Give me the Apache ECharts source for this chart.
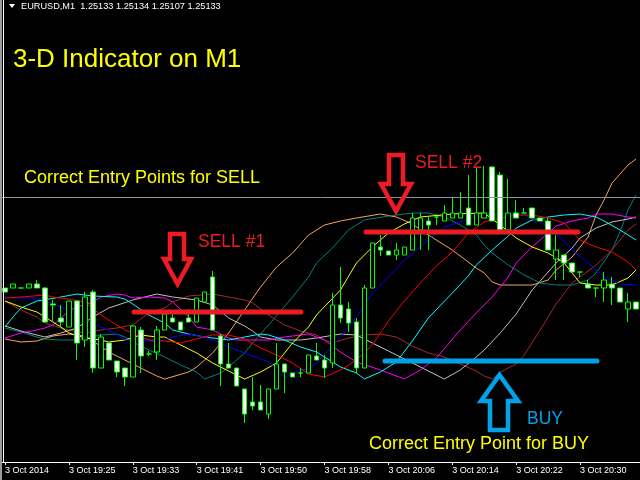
<!DOCTYPE html>
<html><head><meta charset="utf-8">
<script src="https://cdn.jsdelivr.net/npm/echarts@6/dist/echarts.min.js"></script>
<style>html,body{margin:0;padding:0;background:#000;}#c{width:640px;height:480px;}</style>
</head><body><div id="c"></div>
<script>
// Bar times (M1 bars, 3 Oct 2014)
const barTimes = [
"19:17","19:18","19:19","19:20","19:21","19:22","19:23","19:24","19:25","19:26",
"19:27","19:28","19:29","19:30","19:31","19:32","19:33","19:34","19:35","19:36",
"19:37","19:38","19:39","19:40","19:41","19:42","19:43","19:44","19:46","19:47",
"19:48","19:49","19:50","19:51","19:52","19:53","19:54","19:55","19:56","19:57",
"19:58","19:59","20:00","20:01","20:02","20:03","20:04","20:05","20:06","20:07",
"20:08","20:09","20:10","20:11","20:12","20:13","20:14","20:15","20:16","20:17",
"20:18","20:19","20:20","20:21","20:22","20:23","20:24","20:25","20:26","20:27",
"20:28","20:29","20:30","20:31","20:32","20:33","20:34","20:35","20:36","20:37"];

// [open, close, low, high]
const candleOHLC = [
[1.25154,1.25150,1.25150,1.25154],[1.25154,1.25158,1.25154,1.25158],[1.25154,1.25154,1.25154,1.25154],
[1.25154,1.25158,1.25154,1.25158],[1.25158,1.25154,1.25154,1.25162],[1.25154,1.25120,1.25119,1.25155],
[1.25138,1.25137,1.25120,1.25142],[1.25124,1.25120,1.25115,1.25137],[1.25115,1.25141,1.25115,1.25141],
[1.25141,1.25099,1.25082,1.25142],[1.25102,1.25145,1.25095,1.25150],[1.25150,1.25074,1.25069,1.25152],
[1.25074,1.25105,1.25074,1.25108],[1.25099,1.25082,1.25082,1.25099],[1.25081,1.25070,1.25065,1.25081],
[1.25074,1.25065,1.25056,1.25074],[1.25065,1.25116,1.25065,1.25117],[1.25112,1.25086,1.25069,1.25115],
[1.25088,1.25088,1.25086,1.25091],[1.25090,1.25112,1.25082,1.25116],[1.25112,1.25128,1.25112,1.25132],
[1.25124,1.25120,1.25120,1.25128],[1.25120,1.25112,1.25112,1.25120],[1.25124,1.25120,1.25120,1.25133],
[1.25120,1.25144,1.25120,1.25144],[1.25140,1.25150,1.25140,1.25150],[1.25165,1.25112,1.25112,1.25171],
[1.25106,1.25078,1.25056,1.25108],[1.25078,1.25074,1.25074,1.25099],[1.25074,1.25056,1.25056,1.25074],
[1.25053,1.25028,1.25019,1.25053],[1.25040,1.25036,1.25032,1.25065],[1.25040,1.25032,1.25032,1.25057],
[1.25028,1.25053,1.25023,1.25053],[1.25053,1.25078,1.25053,1.25099],[1.25078,1.25070,1.25049,1.25078],
[1.25069,1.25065,1.25065,1.25069],[1.25069,1.25069,1.25065,1.25074],[1.25069,1.25087,1.25069,1.25087],
[1.25086,1.25082,1.25082,1.25099],[1.25082,1.25074,1.25064,1.25087],[1.25079,1.25137,1.25074,1.25149],
[1.25137,1.25124,1.25119,1.25175],[1.25133,1.25119,1.25110,1.25140],[1.25120,1.25074,1.25069,1.25124],
[1.25074,1.25154,1.25074,1.25157],[1.25154,1.25199,1.25154,1.25199],[1.25195,1.25192,1.25186,1.25207],
[1.25191,1.25187,1.25187,1.25191],[1.25187,1.25192,1.25182,1.25199],[1.25187,1.25195,1.25187,1.25195],
[1.25192,1.25224,1.25192,1.25229],[1.25212,1.25224,1.25192,1.25229],[1.25221,1.25217,1.25192,1.25226],
[1.25225,1.25225,1.25217,1.25225],[1.25221,1.25229,1.25221,1.25237],[1.25224,1.25229,1.25224,1.25245],
[1.25224,1.25229,1.25224,1.25250],[1.25234,1.25217,1.25217,1.25267],[1.25217,1.25229,1.25217,1.25275],
[1.25224,1.25229,1.25224,1.25276],[1.25275,1.25221,1.25221,1.25276],[1.25267,1.25212,1.25212,1.25270],
[1.25212,1.25229,1.25212,1.25263],[1.25229,1.25224,1.25224,1.25242],[1.25229,1.25229,1.25229,1.25234],
[1.25234,1.25224,1.25224,1.25234],[1.25224,1.25221,1.25221,1.25224],[1.25221,1.25192,1.25192,1.25224],
[1.25183,1.25192,1.25162,1.25207],[1.25187,1.25179,1.25162,1.25187],[1.25179,1.25170,1.25170,1.25179],
[1.25170,1.25170,1.25165,1.25170],[1.25158,1.25154,1.25154,1.25162],[1.25154,1.25154,1.25145,1.25154],
[1.25154,1.25162,1.25140,1.25170],[1.25158,1.25154,1.25137,1.25165],[1.25154,1.25140,1.25140,1.25154],
[1.25133,1.25140,1.25120,1.25149],[1.25140,1.25133,1.25133,1.25140]];

// indicator lines: [bar index, price]
const lineRed = [[0,1.25144],[2,1.25145],[5,1.25147],[6,1.25145],[8,1.25143],[10,1.25140],[12,1.25127],[15,1.25112],[18,1.25102],[20,1.25101],[22,1.25099],[24,1.25103],[26,1.25107],[28,1.25107],[30,1.25103],[32,1.25094],[34,1.25087],[36,1.25079],[38,1.25068],[40,1.25065],[42,1.25072],[44,1.25082],[46,1.25097],[48,1.25121],[50,1.25141],[52,1.25159],[54,1.25176],[56,1.25190],[58,1.25209],[60,1.25220],[62,1.25224],[64,1.25227],[66,1.25227],[68,1.25224],[70,1.25219],[72,1.25202],[74,1.25195],[76,1.25190],[78,1.25180],[79,1.25172]];
const lineCyan = [[0,1.25115],[1,1.25125],[2,1.25134],[4,1.25141],[7,1.25145],[9,1.25148],[11,1.25146],[14,1.25145],[15,1.25143],[16,1.25138],[18,1.25127],[20,1.25119],[21,1.25112],[23,1.25108],[25,1.25105],[27,1.25103],[28,1.25102],[30,1.25105],[32,1.25108],[33,1.25107],[35,1.25102],[37,1.25095],[39,1.25090],[40,1.25085],[42,1.25075],[44,1.25069],[45,1.25063],[47,1.25070],[49,1.25080],[51,1.25101],[53,1.25124],[56,1.25149],[58,1.25166],[59,1.25177],[61,1.25192],[63,1.25206],[64,1.25214],[66,1.25222],[68,1.25225],[70,1.25227],[72,1.25228],[74,1.25225],[75,1.25221],[77,1.25212],[79,1.25202]];
const lineMagenta = [[0,1.25104],[2,1.25109],[4,1.25112],[5,1.25114],[6,1.25117],[8,1.25131],[9,1.25135],[11,1.25140],[12,1.25145],[14,1.25148],[15,1.25147],[16,1.25144],[18,1.25145],[20,1.25144],[21,1.25140],[23,1.25125],[24,1.25115],[26,1.25112],[28,1.25104],[29,1.25102],[33,1.25102],[35,1.25105],[38,1.25108],[40,1.25102],[42,1.25090],[44,1.25080],[47,1.25072],[50,1.25063],[52,1.25072],[54,1.25084],[57,1.25112],[59,1.25129],[61,1.25145],[63,1.25165],[64,1.25179],[66,1.25195],[68,1.25209],[69,1.25216],[71,1.25221],[73,1.25224],[74,1.25228],[76,1.25228],[78,1.25225],[79,1.25224]];
const lineSilver = [[0,1.25116],[2,1.25111],[5,1.25105],[7,1.25109],[9,1.25114],[11,1.25125],[13,1.25134],[16,1.25142],[19,1.25148],[21,1.25145],[24,1.25142],[26,1.25137],[28,1.25124],[30,1.25116],[31,1.25111],[32,1.25105],[34,1.25102],[37,1.25102],[39,1.25104],[42,1.25108],[44,1.25107],[46,1.25099],[48,1.25091],[51,1.25079],[55,1.25063],[57,1.25072],[59,1.25085],[60,1.25092],[62,1.25109],[64,1.25128],[66,1.25152],[69,1.25179],[71,1.25194],[72,1.25204],[74,1.25214],[76,1.25220],[78,1.25223],[79,1.25225]];
const lineYellow = [[0,1.25141],[2,1.25135],[4,1.25130],[5,1.25125],[7,1.25115],[8,1.25109],[10,1.25104],[12,1.25102],[13,1.25100],[15,1.25102],[17,1.25107],[19,1.25105],[20,1.25105],[22,1.25097],[24,1.25089],[26,1.25079],[28,1.25071],[30,1.25063],[32,1.25070],[34,1.25079],[36,1.25099],[38,1.25115],[39,1.25127],[42,1.25152],[44,1.25179],[46,1.25195],[48,1.25209],[50,1.25218],[52,1.25225],[56,1.25228],[60,1.25229],[62,1.25217],[64,1.25204],[66,1.25195],[68,1.25189],[70,1.25179],[72,1.25159],[74,1.25157],[76,1.25157],[78,1.25164],[79,1.25172]];
const lineBlue = [[0,1.25145],[2,1.25144],[4,1.25144],[5,1.25141],[7,1.25135],[9,1.25129],[10,1.25122],[12,1.25115],[14,1.25108],[15,1.25102],[17,1.25102],[19,1.25100],[20,1.25102],[21,1.25105],[23,1.25108],[25,1.25105],[26,1.25102],[28,1.25095],[30,1.25089],[33,1.25080],[35,1.25064],[36,1.25069],[38,1.25074],[39,1.25079],[42,1.25105],[44,1.25125],[46,1.25149],[48,1.25165],[50,1.25182],[53,1.25202],[55,1.25215],[57,1.25220],[59,1.25226],[60,1.25229],[62,1.25228],[65,1.25227],[67,1.25220],[69,1.25209],[71,1.25192],[73,1.25179],[75,1.25165],[77,1.25158],[79,1.25157]];
const lineSandy = [[0,1.25103],[2,1.25100],[4,1.25101],[6,1.25106],[8,1.25108],[10,1.25106],[11,1.25101],[13,1.25090],[15,1.25082],[17,1.25074],[19,1.25066],[20,1.25063],[23,1.25070],[24,1.25075],[26,1.25089],[28,1.25109],[30,1.25132],[32,1.25155],[34,1.25175],[36,1.25189],[38,1.25207],[40,1.25217],[42,1.25221],[44,1.25224],[47,1.25228],[49,1.25225],[51,1.25218],[53,1.25207],[56,1.25192],[58,1.25180],[59,1.25174],[60,1.25169],[61,1.25160],[62,1.25157],[66,1.25157],[68,1.25162],[69,1.25172],[71,1.25185],[73,1.25205],[74,1.25227],[75,1.25242],[76,1.25259],[78,1.25277],[79,1.25283]];
const lineTeal = [[0,1.25114],[2,1.25110],[4,1.25105],[5,1.25103],[7,1.25102],[9,1.25102],[12,1.25107],[14,1.25108],[15,1.25105],[16,1.25100],[18,1.25092],[20,1.25085],[22,1.25077],[24,1.25070],[25,1.25063],[27,1.25069],[28,1.25075],[30,1.25089],[31,1.25099],[33,1.25117],[36,1.25145],[38,1.25165],[39,1.25179],[41,1.25194],[43,1.25212],[45,1.25222],[48,1.25226],[51,1.25229],[53,1.25229],[55,1.25225],[57,1.25217],[59,1.25207],[60,1.25197],[61,1.25189],[63,1.25177],[65,1.25167],[67,1.25159],[69,1.25157],[71,1.25157],[73,1.25162],[74,1.25169],[76,1.25192],[77,1.25210],[78,1.25232],[79,1.25247]];
const lineBrown = [[0,1.25141],[2,1.25132],[4,1.25125],[5,1.25119],[7,1.25114],[8,1.25112],[10,1.25109],[12,1.25112],[14,1.25114],[16,1.25117],[18,1.25129],[20,1.25134],[21,1.25140],[23,1.25146],[26,1.25148],[28,1.25145],[30,1.25142],[31,1.25139],[33,1.25127],[35,1.25117],[37,1.25111],[39,1.25107],[40,1.25102],[41,1.25099],[43,1.25104],[45,1.25107],[47,1.25108],[49,1.25105],[51,1.25096],[53,1.25089],[55,1.25085],[57,1.25078],[59,1.25071],[60,1.25066],[61,1.25063],[62,1.25070],[64,1.25078],[65,1.25087],[67,1.25112],[69,1.25138],[71,1.25159],[72,1.25165],[74,1.25177],[76,1.25192],[78,1.25212],[79,1.25218]];

const levelPrice = 1.25245;
const headerText = "EURUSD,M1  1.25133 1.25134 1.25107 1.25133";

const lines = [
  [lineSandy,'#F4A460'],[lineTeal,'#008080'],[lineBrown,'#A52A2A'],[lineSilver,'#C0C0C0'],
  [lineMagenta,'#FF00FF'],[lineCyan,'#00FFFF'],[lineYellow,'#FFFF00'],[lineBlue,'#0000FF'],[lineRed,'#FF0000']
];

const series = lines.map(([d,c]) => ({
  type:'line', data:d, symbol:'none', silent:true, z:2,
  lineStyle:{color:c,width:1}
}));
series[0].markLine = {silent:true,symbol:'none',precision:5,label:{show:false},
  lineStyle:{color:'#8796a5',width:1,type:'solid'},data:[{yAxis:levelPrice}]};
series.push({
  type:'candlestick', data:candleOHLC, z:3, barWidth:5,
  itemStyle:{color:'#000000',color0:'#FFFFFF',borderColor:'#00FF00',borderColor0:'#00FF00',borderColorDoji:'#00FF00',borderWidth:1}
});

const RED='#ED1C24', BLUE='#00A2E8', YEL='#FFFF00';
const F="'Liberation Sans', Arial, sans-serif";
function txt(x,y,s,color,size){return {type:'text',x:x,y:y,z:100,style:{text:s,fill:color,font:size+'px '+F,verticalAlign:'middle',align:'left'}};}
function poly(pts,color,w){return {type:'polygon',z:100,shape:{points:pts},style:{fill:null,stroke:color,lineWidth:w,lineJoin:'miter'}};}
function seg(x1,x2,y,color){return {type:'line',z:100,shape:{x1:x1,y1:y,x2:x2,y2:y},style:{stroke:color,lineWidth:5,lineCap:'round'}};}

const chart = echarts.init(document.getElementById('c'),null,{renderer:'canvas'});
chart.setOption({
  animation:false,
  backgroundColor:'#000000',
  grid:{left:1,top:0,width:640,height:462},
  xAxis:{type:'category',data:barTimes,boundaryGap:true,
    axisLine:{lineStyle:{color:'#FFFFFF',width:1}},
    axisTick:{show:true,interval:7,alignWithLabel:true,length:3,lineStyle:{color:'#FFFFFF'}},
    axisLabel:{interval:7,align:'left',margin:4,color:'#FFFFFF',fontSize:9,fontFamily:F,
      formatter:(v,i)=> i===0 ? '3 Oct 2014' : '3 Oct '+v},
    splitLine:{show:false}},
  yAxis:{type:'value',min:1.24980,max:1.25442,show:false,splitLine:{show:false}},
  series:series,
  graphic:[
    {type:'rect',z:100,shape:{x:0,y:0,width:2,height:480},style:{fill:'#9a9a9a'}},
    {type:'line',z:100,shape:{x1:3.5,y1:0,x2:3.5,y2:462},style:{stroke:'#FFFFFF',lineWidth:1}},
    {type:'polygon',z:100,shape:{points:[[9,4],[15,4],[12,8]]},style:{fill:'#FFFFFF'}},
    txt(21,6,headerText,'#FFFFFF',9.2),
    txt(13,60,'3-D Indicator on M1',YEL,26),
    txt(24,178,'Correct Entry Points for SELL',YEL,18),
    txt(198,242,'SELL #1',RED,17.5),
    txt(415,163,'SELL #2',RED,17.5),
    txt(527,419,'BUY',BLUE,17.5),
    txt(369,444,'Correct Entry Point for BUY',YEL,18),
    seg(134,301,312,RED),
    seg(366,578,232,RED),
    seg(385,597,361,BLUE),
    poly([[170,234],[184,234],[184,259],[191,259],[177.5,284],[164,259],[170,259]],RED,4.5),
    poly([[389,155],[403,155],[403,184],[411,184],[396,211],[381,184],[389,184]],RED,4.5),
    poly([[490,430],[508,430],[508,401],[518,401],[499.5,375],[481,401],[490,401]],BLUE,4.5)
  ]
});
</script></body></html>
